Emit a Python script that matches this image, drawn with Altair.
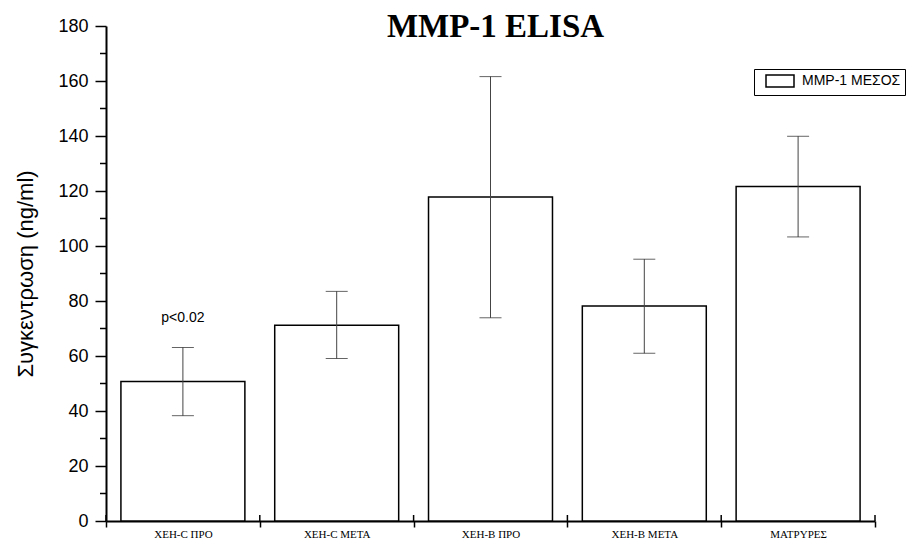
import altair as alt
import pandas as pd

categories = ["ΧΕΗ-C ΠΡΟ", "ΧΕΗ-C ΜΕΤΑ", "ΧΕΗ-B ΠΡΟ", "ΧΕΗ-B ΜΕΤΑ", "ΜΑΤΡΥΡΕΣ"]
means = [50.7, 71.2, 117.8, 78.2, 121.6]
upper = [63.1, 83.5, 161.6, 95.2, 139.9]
lower = [38.3, 59.1, 73.9, 61.0, 103.3]
series_name = "MMP-1 ΜΕΣΟΣ"
major_ticks = [0, 20, 40, 60, 80, 100, 120, 140, 160, 180]
minor_ticks = [10, 30, 50, 70, 90, 110, 130, 150, 170]
annot_cat = [categories[0]]
annot_y = [74]
annot_text = ["p<0.02"]

W, H = 769, 495
ytitle = "Συγκεντρωση   (ng/ml)"

df = pd.DataFrame({"cat": categories, "mean": means, "lo": lower, "hi": upper,
                   "series": [series_name] * len(categories)})
minor_df = pd.DataFrame({"v": minor_ticks})
annot_df = pd.DataFrame({"cat": annot_cat, "y": annot_y, "label": annot_text})

xscale = alt.Scale(domain=categories, paddingInner=0, paddingOuter=0)
yscale = alt.Scale(domain=[0, 180], nice=False, zero=True)

x_enc = alt.X("cat:N", sort=categories, scale=xscale,
              axis=alt.Axis(title=None, tickBand="extent", tickSize=6, tickWidth=1.5,
                            tickColor="black", domainColor="black", domainWidth=2,
                            labelFont="Liberation Serif", labelFontSize=11,
                            labelColor="black", labelPadding=1, labelAngle=0))
y_enc = alt.Y("mean:Q", scale=yscale, title=ytitle,
              axis=alt.Axis(values=major_ticks, tickSize=11, tickWidth=1.5,
                            tickColor="black", domainColor="black", domainWidth=2,
                            labelFont="Liberation Sans", labelFontSize=18,
                            labelColor="black", labelPadding=7, grid=False,
                            titleFont="Liberation Sans", titleFontSize=22,
                            titleFontWeight="normal", titleColor="black",
                            titlePadding=20))

bars = alt.Chart(df).mark_bar(width=alt.RelativeBandSize(0.806), stroke="black",
                              strokeWidth=1.5).encode(
    x=x_enc,
    y=y_enc,
    fill=alt.Fill("series:N", scale=alt.Scale(range=["white"]),
                  legend=alt.Legend(title=None, orient="none", legendX=648, legendY=43,
                                    strokeColor="black", fillColor="white", padding=4,
                                    symbolType="M-2,-0.86H2V0.86H-2Z", symbolSize=196,
                                    symbolStrokeColor="black", symbolStrokeWidth=1.5,
                                    symbolOffset=14, labelOffset=14,
                                    labelFont="Liberation Sans", labelFontSize=14,
                                    labelColor="black")),
)

err = alt.Chart(df).mark_rule(color="#444", strokeWidth=1).encode(
    x=alt.X("cat:N", sort=categories, scale=xscale),
    y=alt.Y("lo:Q", scale=yscale, title=ytitle),
    y2="hi:Q",
)
cap_hi = alt.Chart(df).mark_tick(color="#222", size=22, thickness=1).encode(
    x=alt.X("cat:N", sort=categories, scale=xscale),
    y=alt.Y("hi:Q", scale=yscale, title=ytitle),
)
cap_lo = alt.Chart(df).mark_tick(color="#222", size=22, thickness=1).encode(
    x=alt.X("cat:N", sort=categories, scale=xscale),
    y=alt.Y("lo:Q", scale=yscale, title=ytitle),
)

minor = alt.Chart(minor_df).mark_rule(color="black", strokeWidth=1.5).encode(
    y=alt.Y("v:Q", scale=yscale, title=ytitle),
    x=alt.value(-6),
    x2=alt.value(0),
)

xticks_up = alt.Chart(df).mark_rule(color="black", strokeWidth=1.5).encode(
    x=alt.X("cat:N", sort=categories, scale=xscale, bandPosition=0),
    y=alt.value(H - 6),
    y2=alt.value(H),
)
xtick_end = alt.Chart(df.head(1)).mark_rule(color="black", strokeWidth=1.5).encode(
    x=alt.value(W),
    y=alt.value(H - 6),
    y2=alt.value(H),
)

annot = alt.Chart(annot_df).mark_text(font="Liberation Sans", fontSize=14,
                                      color="black").encode(
    x=alt.X("cat:N", sort=categories, scale=xscale),
    y=alt.Y("y:Q", scale=yscale, title=ytitle),
    text="label:N",
)

chart = alt.layer(bars, err, cap_hi, cap_lo, minor, xticks_up, xtick_end, annot).properties(
    width=W,
    height=H,
    background="white",
    title=alt.TitleParams("MMP-1 ELISA", font="Liberation Serif", fontSize=33,
                          fontWeight="bold", color="black", anchor="middle",
                          frame="group", baseline="alphabetic", offset=0, dy=53, dx=5),
    autosize=alt.AutoSizeParams(type="none"),
    padding={"left": 106, "top": 26, "right": 35, "bottom": 26},
).configure_view(strokeWidth=0, stroke=None)

chart.save("out.html", embed_options={"renderer": "svg", "actions": False})
